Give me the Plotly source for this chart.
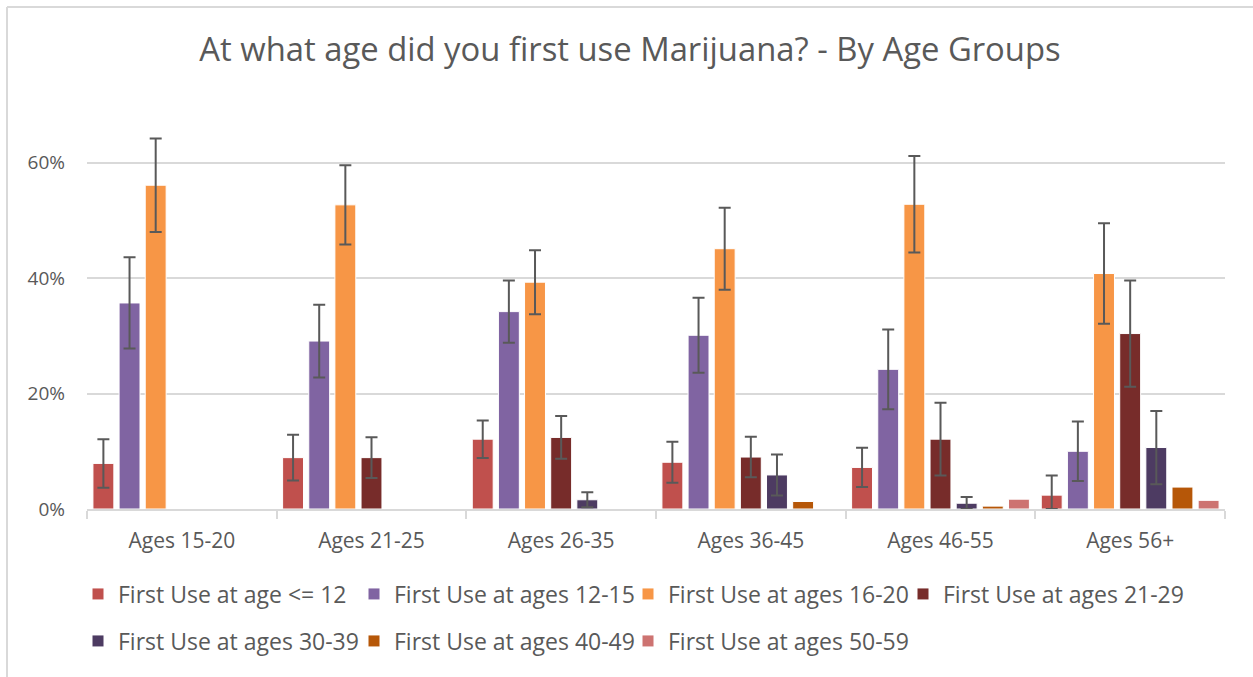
import plotly.graph_objects as go

categories = ["Ages 15-20", "Ages 21-25", "Ages 26-35", "Ages 36-45", "Ages 46-55", "Ages 56+"]

series_names = [
    "First Use at age &lt;= 12",
    "First Use at ages 12-15",
    "First Use at ages 16-20",
    "First Use at ages 21-29",
    "First Use at ages 30-39",
    "First Use at ages 40-49",
    "First Use at ages 50-59",
]

use_le12 = [7.9, 8.9, 12.1, 8.1, 7.2, 2.4]
use_12_15 = [35.7, 29.1, 34.2, 30.1, 24.2, 10.0]
use_16_20 = [56.1, 52.7, 39.3, 45.1, 52.8, 40.8]
use_21_29 = [None, 8.9, 12.4, 9.0, 12.1, 30.4]
use_30_39 = [None, None, 1.6, 5.9, 1.0, 10.65]
use_40_49 = [None, None, None, 1.3, 0.5, 3.8]
use_50_59 = [None, None, None, None, 1.7, 1.5]

err_le12 = [4.2, 3.95, 3.25, 3.55, 3.4, 3.4]
err_12_15 = [7.9, 6.3, 5.4, 6.5, 6.9, 5.15]
err_16_20 = [8.1, 6.85, 5.55, 7.1, 8.35, 8.7]
err_21_29 = [None, 3.55, 3.7, 3.5, 6.3, 9.2]
err_30_39 = [None, None, 1.3, 3.55, 1.1, 6.35]
err_40_49 = [None] * 6
err_50_59 = [None] * 6

values = [use_le12, use_12_15, use_16_20, use_21_29, use_30_39, use_40_49, use_50_59]
errors = [err_le12, err_12_15, err_16_20, err_21_29, err_30_39, err_40_49, err_50_59]
colors = ["#C0504D", "#8064A2", "#F79646", "#772C2A", "#4D3B62", "#B65708", "#CD7371"]

FONT = "Open Sans"
GRAY = "#595959"
LINE = "#D9D9D9"

W, H = 1253, 677
L, R, T, B = 87, 28, 105, 168
pw = W - L - R
ph = H - T - B


def px_x(x):
    return (x - L) / pw


def px_y(y):
    return (H - B - y) / ph


# legend slot pixel positions (left of legend box, row centre)
legend_slots = [(78, 594), (354, 594), (628, 594), (903, 594),
                (78, 641), (354, 641), (628, 641)]

fig = go.Figure()
legend_layout = {}
for i, (name, vals, errs, col) in enumerate(zip(series_names, values, errors, colors)):
    has_err = any(e is not None for e in errs)
    err_minus = [min(e, v) if (e is not None and v is not None) else None for e, v in zip(errs, vals)]
    lg = "legend" if i == 0 else f"legend{i + 1}"
    fig.add_trace(go.Bar(
        x=categories,
        y=vals,
        name=name,
        marker=dict(color=col, line=dict(color="white", width=1)),
        error_y=dict(type="data", symmetric=False, array=errs, arrayminus=err_minus,
                     color=GRAY, thickness=2, width=6, visible=has_err),
        legend=lg,
    ))
    lx, ly = legend_slots[i]
    legend_layout[lg] = dict(orientation="h", x=px_x(lx), xanchor="left", y=px_y(ly), yanchor="middle",
                             font=dict(family=FONT, size=23, color=GRAY), bgcolor="rgba(0,0,0,0)")

fig.update_layout(
    width=W, height=H,
    margin=dict(l=L, r=R, t=T, b=B, autoexpand=False),
    paper_bgcolor="white", plot_bgcolor="white",
    barmode="group", bargap=0.035, bargroupgap=0.2,
    font=dict(family=FONT, color=GRAY),
    title=dict(text="At what age did you first use Marijuana? - By Age Groups",
               x=630 / W, xref="container", xanchor="center", y=1 - 50 / H, yanchor="middle",
               font=dict(family=FONT, size=32.8, color=GRAY)),
    showlegend=True,
    xaxis=dict(showline=True, linecolor=LINE, linewidth=2, ticks="outside", tickson="boundaries",
               tickcolor=LINE, ticklen=8, tickwidth=2, showgrid=False, ticklabelstandoff=12,
               tickfont=dict(family=FONT, size=21, color=GRAY)),
    yaxis=dict(range=[0, 70], dtick=20, ticksuffix="%", showgrid=True, gridcolor=LINE, gridwidth=2,
               zeroline=False, showline=False, ticklabelstandoff=21,
               tickfont=dict(family=FONT, size=19, color=GRAY)),
    shapes=[
        dict(type="line", xref="paper", yref="paper", x0=px_x(7), x1=px_x(7), y0=px_y(H + 5), y1=px_y(7),
             line=dict(color=LINE, width=2)),
        dict(type="line", xref="paper", yref="paper", x0=px_x(7), x1=px_x(W + 5), y0=px_y(7), y1=px_y(7),
             line=dict(color=LINE, width=2)),
    ],
    **legend_layout,
)

fig.write_html("out.html", config={"displayModeBar": False},
               post_script="document.body.style.margin='0px';")
